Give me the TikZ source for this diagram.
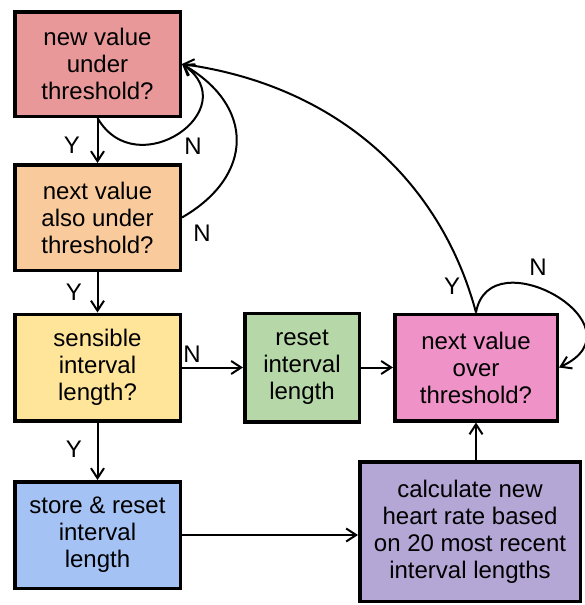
\documentclass[tikz,border=0pt]{standalone}
\usepackage{fontspec}
\setmainfont{Liberation Sans}
\usepackage{tikz}
\usetikzlibrary{arrows.meta}
\usepackage{xcolor}
\definecolor{boxred}{HTML}{E89899}
\definecolor{boxorange}{HTML}{F9CB9C}
\definecolor{boxyellow}{HTML}{FFE599}
\definecolor{boxgreen}{HTML}{B6D7A8}
\definecolor{boxpink}{HTML}{EE92C8}
\definecolor{boxblue}{HTML}{A4C2F4}
\definecolor{boxpurple}{HTML}{B4A7D6}

\begin{document}
\begin{tikzpicture}[x=1pt, y=1pt,
		box/.style={draw, line width=3.5pt, align=center, inner sep=0pt, font=\fontsize{24}{27}\selectfont},
		link/.style={line width=2pt, -{Straight Barb[length=10pt,width=13pt]}},
		lbl/.style={font=\fontsize{24}{27}\selectfont}]
			\useasboundingbox (0,0) rectangle (584,-605);
			\node[box, fill=boxred, minimum width=165.5, minimum height=104.5] (under) at (97.5,-64) {new value\\under\\threshold?};
			\node[box, fill=boxorange, minimum width=165.5, minimum height=105.5] (also) at (97.5,-217.5) {next value\\also under\\threshold?};
			\node[box, fill=boxyellow, minimum width=165.5, minimum height=106.5] (sensible) at (97.5,-367.5) {sensible\\interval\\length?};
			\node[box, fill=boxblue, minimum width=165.5, minimum height=106.5] (store) at (97.5,-535) {store \& reset\\interval\\length};
			\node[box, fill=boxgreen, minimum width=114.5, minimum height=108.5] (reset) at (302,-367.5) {reset\\interval\\length};
			\node[box, fill=boxpink, minimum width=162.5, minimum height=106.5] (over) at (476,-367.5) {next value\\over\\threshold?};
			\node[box, fill=boxpurple, minimum width=220.5, minimum height=139.5] (calc) at (470,-531.5) {calculate new\\heart rate based\\on 20 most recent\\interval lengths};

			\draw[link] (under.south) -- (also.north);
			\draw[link] (also.south) -- (sensible.north);
			\draw[link] (sensible.south) -- (store.north);
			\draw[link] (sensible.east) -- (reset.west);
			\draw[link] (reset.east) -- (over.west);
			\draw[link] (store.east) -- (store.east -| calc.west);
			\draw[link] (over.south |- calc.north) -- (over.south);
			\draw[link] (under.south) to[out=-60, in=-35, looseness=2] (under.east);
			\draw[link] (also.east) to[out=30, in=-30, looseness=1.4] (under.east);
			\draw[link] (over.north) to[out=105, in=-8, out looseness=0.9, in looseness=1.05] (under.east);
			\draw[link] (over.north) to[out=80, in=25, out looseness=2, in looseness=2.5] (over.east);

			\node[lbl] (y1) at (72,-145) {Y};
			\node[lbl] (n1) at (193,-146) {N};
			\node[lbl] (n2) at (202,-233) {N};
			\node[lbl] (y2) at (74,-292) {Y};
			\node[lbl] (n3) at (192,-354) {N};
			\node[lbl] (y3) at (74,-449) {Y};
			\node[lbl] (y4) at (452,-286) {Y};
			\node[lbl] (n4) at (538,-267) {N};
\end{tikzpicture}
\end{document}
